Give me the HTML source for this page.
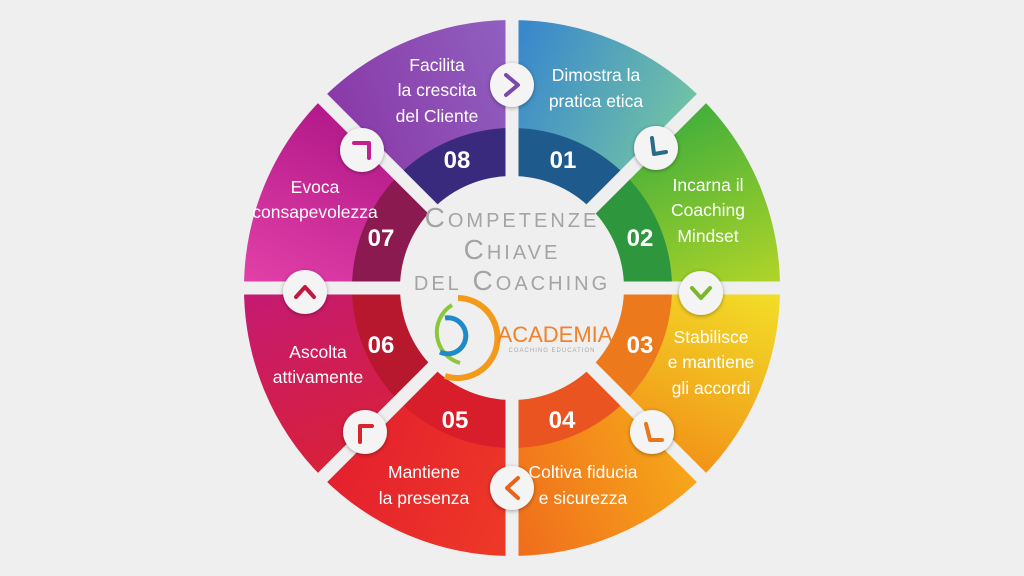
<!DOCTYPE html>
<html><head><meta charset="utf-8"><style>
html,body{margin:0;padding:0;background:#efefef;}
svg{display:block;}
.t{font-family:"Liberation Sans",sans-serif;font-size:17.5px;fill:#fff;text-anchor:middle;}
.n{font-family:"Liberation Sans",sans-serif;font-size:24px;font-weight:bold;fill:#fff;text-anchor:middle;}
.c{font-family:"Liberation Sans",sans-serif;font-variant:small-caps;fill:#a4a4a4;font-size:28px;letter-spacing:3px;text-anchor:middle;}
</style></head><body>
<svg width="1024" height="576" viewBox="0 0 1024 576" xmlns="http://www.w3.org/2000/svg">
<defs>
<linearGradient id="g1" x1="512" y1="60" x2="690" y2="140" gradientUnits="userSpaceOnUse"><stop offset="0" stop-color="#3a88cc"/><stop offset="1" stop-color="#74c6a4"/></linearGradient>
<linearGradient id="g2" x1="700" y1="110" x2="780" y2="280" gradientUnits="userSpaceOnUse"><stop offset="0" stop-color="#45b03a"/><stop offset="1" stop-color="#b0d428"/></linearGradient>
<linearGradient id="g3" x1="780" y1="290" x2="700" y2="470" gradientUnits="userSpaceOnUse"><stop offset="0" stop-color="#f2e028"/><stop offset="1" stop-color="#f29418"/></linearGradient>
<linearGradient id="g4" x1="700" y1="480" x2="512" y2="556" gradientUnits="userSpaceOnUse"><stop offset="0" stop-color="#f6a81a"/><stop offset="1" stop-color="#f06a1c"/></linearGradient>
<linearGradient id="g5" x1="512" y1="556" x2="330" y2="480" gradientUnits="userSpaceOnUse"><stop offset="0" stop-color="#ee3a26"/><stop offset="1" stop-color="#e4202e"/></linearGradient>
<linearGradient id="g6" x1="320" y1="470" x2="244" y2="290" gradientUnits="userSpaceOnUse"><stop offset="0" stop-color="#d8203a"/><stop offset="1" stop-color="#c41a74"/></linearGradient>
<linearGradient id="g7" x1="244" y1="280" x2="320" y2="110" gradientUnits="userSpaceOnUse"><stop offset="0" stop-color="#e240a8"/><stop offset="1" stop-color="#b41a8a"/></linearGradient>
<linearGradient id="g8" x1="330" y1="100" x2="512" y2="30" gradientUnits="userSpaceOnUse"><stop offset="0" stop-color="#8a3aa8"/><stop offset="1" stop-color="#9060c0"/></linearGradient>
<filter id="sh" x="-50%" y="-50%" width="200%" height="200%"><feDropShadow dx="0" dy="1" stdDeviation="2" flood-color="#000" flood-opacity="0.35"/></filter>
</defs>
<rect width="1024" height="576" fill="#efefef"/>
<g stroke-linejoin="round" stroke-width="12">
<path d="M512,288 L512,26 A262,262 0 0 1 697.3,102.7 Z" fill="url(#g1)" stroke="url(#g1)"/>
<path d="M512,288 L697.3,102.7 A262,262 0 0 1 774,288 Z" fill="url(#g2)" stroke="url(#g2)"/>
<path d="M512,288 L774,288 A262,262 0 0 1 697.3,473.3 Z" fill="url(#g3)" stroke="url(#g3)"/>
<path d="M512,288 L697.3,473.3 A262,262 0 0 1 512,550 Z" fill="url(#g4)" stroke="url(#g4)"/>
<path d="M512,288 L512,550 A262,262 0 0 1 326.7,473.3 Z" fill="url(#g5)" stroke="url(#g5)"/>
<path d="M512,288 L326.7,473.3 A262,262 0 0 1 250,288 Z" fill="url(#g6)" stroke="url(#g6)"/>
<path d="M512,288 L250,288 A262,262 0 0 1 326.7,102.7 Z" fill="url(#g7)" stroke="url(#g7)"/>
<path d="M512,288 L326.7,102.7 A262,262 0 0 1 512,26 Z" fill="url(#g8)" stroke="url(#g8)"/>
</g>
<path d="M512,288 L512,128 A160,160 0 0 1 625.1,174.9 Z" fill="#1f5a8c"/>
<path d="M512,288 L625.1,174.9 A160,160 0 0 1 672,288 Z" fill="#2e963c"/>
<path d="M512,288 L672,288 A160,160 0 0 1 625.1,401.1 Z" fill="#ec7a1c"/>
<path d="M512,288 L625.1,401.1 A160,160 0 0 1 512,448 Z" fill="#ea5420"/>
<path d="M512,288 L512,448 A160,160 0 0 1 398.9,401.1 Z" fill="#d81e2a"/>
<path d="M512,288 L398.9,401.1 A160,160 0 0 1 352,288 Z" fill="#b8182e"/>
<path d="M512,288 L352,288 A160,160 0 0 1 398.9,174.9 Z" fill="#8a1a50"/>
<path d="M512,288 L398.9,174.9 A160,160 0 0 1 512,128 Z" fill="#3a2a7e"/>
<g stroke="#efefef" stroke-width="13">
<line x1="512" y1="288" x2="512" y2="5"/>
<line x1="512" y1="288" x2="712" y2="88"/>
<line x1="512" y1="288" x2="795" y2="288"/>
<line x1="512" y1="288" x2="712" y2="488"/>
<line x1="512" y1="288" x2="512" y2="571"/>
<line x1="512" y1="288" x2="312" y2="488"/>
<line x1="512" y1="288" x2="229" y2="288"/>
<line x1="512" y1="288" x2="312" y2="88"/>
</g>
<circle cx="512" cy="288" r="112" fill="#efefef"/>
<text class="t" x="596" y="81">Dimostra la</text><text class="t" x="596" y="107">pratica etica</text>
<text class="n" x="563" y="168">01</text>
<text class="t" x="708" y="191">Incarna il</text><text class="t" x="708" y="216">Coaching</text><text class="t" x="708" y="242">Mindset</text>
<text class="n" x="640" y="246">02</text>
<text class="t" x="711" y="343">Stabilisce</text><text class="t" x="711" y="368">e mantiene</text><text class="t" x="711" y="394">gli accordi</text>
<text class="n" x="640" y="353">03</text>
<text class="t" x="583" y="478">Coltiva fiducia</text><text class="t" x="583" y="504">e sicurezza</text>
<text class="n" x="562" y="428">04</text>
<text class="t" x="424" y="478">Mantiene</text><text class="t" x="424" y="504">la presenza</text>
<text class="n" x="455" y="428">05</text>
<text class="t" x="318" y="358">Ascolta</text><text class="t" x="318" y="383">attivamente</text>
<text class="n" x="381" y="353">06</text>
<text class="t" x="315" y="193">Evoca</text><text class="t" x="315" y="218">consapevolezza</text>
<text class="n" x="381" y="246">07</text>
<text class="t" x="437" y="71">Facilita</text><text class="t" x="437" y="96">la crescita</text><text class="t" x="437" y="122">del Cliente</text>
<text class="n" x="457" y="168">08</text>
<g filter="url(#sh)" fill="#f4f4f4">
<circle cx="512" cy="85" r="22"/><circle cx="656" cy="148" r="22"/><circle cx="701" cy="293" r="22"/><circle cx="652" cy="432" r="22"/>
<circle cx="512" cy="488" r="22"/><circle cx="365" cy="432" r="22"/><circle cx="305" cy="292" r="22"/><circle cx="362" cy="150" r="22"/>
</g>
<g fill="none" stroke-width="4" stroke-linecap="round" stroke-linejoin="round">
<polyline points="506,75 518,85 506,95" stroke="#7a48a8"/>
<polyline points="652,138 654,154 666,152" stroke="#2a6a8a"/>
<polyline points="692,288 701,298 710,288" stroke="#7ab82a"/>
<polyline points="646,424 650,440 662,440" stroke="#e8761c"/>
<polyline points="518,478 507,488 518,498" stroke="#e8641c"/>
<polyline points="360,442 360,426 372,426" stroke="#d8242a"/>
<polyline points="296,297 305,287 314,297" stroke="#c01a40"/>
<polyline points="354,143 369,143 369,158" stroke="#c2208e"/>
</g>
<text class="c" x="512" y="227">Competenze</text>
<text class="c" x="512" y="259">Chiave</text>
<text class="c" x="512" y="290">del Coaching</text>
<path d="M458,298 A40,40 0 1 1 445,376" fill="none" stroke="#f39a1a" stroke-width="6"/>
<path d="M452,305 A32,32 0 0 0 460,363" fill="none" stroke="#8cc63a" stroke-width="4"/>
<path d="M445,318 A18,18 0 1 1 440,352" fill="none" stroke="#1e8ac8" stroke-width="5"/>
<text x="555" y="342" font-family="Liberation Sans,sans-serif" font-size="22" fill="#f0822a" text-anchor="middle">ACADEMIA</text>
<text x="552" y="352" font-family="Liberation Sans,sans-serif" font-size="6" fill="#aaa" text-anchor="middle" letter-spacing="1">COACHING EDUCATION</text>
</svg>
</body></html>
